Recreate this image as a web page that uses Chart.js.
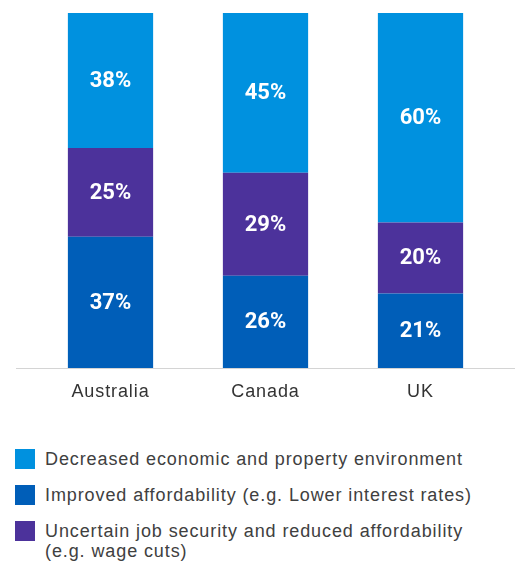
<!DOCTYPE html>
<html>
<head>
<meta charset="utf-8">
<script src="https://cdn.jsdelivr.net/npm/chart.js@4"></script>
<style>
  body { margin: 0; background: #fff; font-family: 'Liberation Sans', Arial, sans-serif; }
  #wrap { position: relative; width: 519px; height: 561px; overflow: hidden; }
  #chartBox { position: absolute; left: 0; top: 0; width: 519px; height: 425px; }
  #legend { position: absolute; left: 15px; top: 449px; width: 504px; }
  .item { display: flex; align-items: flex-start; margin-bottom: 16px; }
  .swatch { width: 20px; height: 20px; flex: none; margin-right: 10px; margin-top: 0px; }
  .text { font-size: 18px; line-height: 20px; color: #404040; letter-spacing: 0.9px; white-space: nowrap; }
</style>
</head>
<body>
<div id="wrap">
  <div id="chartBox"><canvas id="myChart"></canvas></div>
  <div id="legend"></div>
</div>
<script>
const countries = ['Australia', 'Canada', 'UK'];

// stacked from the bottom up
const improved = [37, 26, 21];
const uncertain = [25, 29, 20];
const decreased = [38, 45, 60];

const seriesNames = {
  decreased: 'Decreased economic and property environment',
  improved: 'Improved affordability (e.g. Lower interest rates)',
  uncertain: ['Uncertain job security and reduced affordability', '(e.g. wage cuts)'],
};

const colors = {
  decreased: '#0091df',
  improved: '#005eb8',
  uncertain: '#4c329b',
};

const ctx = document.getElementById('myChart');

// a bit of tracking for the axis labels
const spacing = {
  id: 'spacing',
  beforeDraw(chart) {
    chart.ctx.letterSpacing = '0.9px';
  },
};

// white percentage in the middle of each segment
const segmentLabels = {
  id: 'segmentLabels',
  afterDatasetsDraw(chart) {
    const c = chart.ctx;
    c.save();
    c.letterSpacing = '0px';
    c.fillStyle = '#ffffff';
    c.font = 'bold 22px Roboto, sans-serif';
    c.textAlign = 'center';
    c.textBaseline = 'middle';
    chart.data.datasets.forEach((ds, i) => {
      chart.getDatasetMeta(i).data.forEach((bar, j) => {
        const top = Math.max(bar.y, chart.chartArea.top);
        c.fillText(ds.data[j] + '%', bar.x, (top + bar.base) / 2 + 1);
      });
    });
    c.restore();
  },
};

// thin baseline running past the plot edges
const baseline = {
  id: 'baseline',
  afterDraw(chart) {
    const c = chart.ctx;
    const y = chart.chartArea.bottom + 0.5;
    c.save();
    c.strokeStyle = '#d4d4d4';
    c.lineWidth = 1;
    c.beginPath();
    c.moveTo(16, y);
    c.lineTo(515, y);
    c.stroke();
    c.restore();
  },
};

new Chart(ctx, {
  type: 'bar',
  data: {
    labels: countries,
    datasets: [
      { label: seriesNames.improved, data: improved, backgroundColor: colors.improved },
      { label: seriesNames.uncertain.join(' '), data: uncertain, backgroundColor: colors.uncertain },
      { label: seriesNames.decreased, data: decreased, backgroundColor: colors.decreased },
    ],
  },
  options: {
    responsive: true,
    maintainAspectRatio: false,
    animation: false,
    datasets: {
      bar: { categoryPercentage: 1, barPercentage: 0.55, borderWidth: 0 },
    },
    layout: {
      padding: { top: 13, left: 33, right: 21, bottom: 0 },
    },
    scales: {
      x: {
        stacked: true,
        grid: { display: false },
        border: { display: false },
        ticks: {
          color: '#333333',
          padding: 5,
          font: { family: "'Liberation Sans', Arial, sans-serif", size: 18 },
        },
        afterFit: (scale) => { scale.height = 57; },
      },
      y: {
        stacked: true,
        display: false,
        min: 0,
        max: 100,
      },
    },
    plugins: {
      legend: { display: false },
      tooltip: { enabled: false },
    },
  },
  plugins: [spacing, segmentLabels, baseline],
});

// html legend, top series first
const legendEl = document.getElementById('legend');
['decreased', 'improved', 'uncertain'].forEach((key) => {
  const item = document.createElement('div');
  item.className = 'item';
  const sw = document.createElement('div');
  sw.className = 'swatch';
  sw.style.background = colors[key];
  const txt = document.createElement('div');
  txt.className = 'text';
  const name = seriesNames[key];
  txt.innerHTML = Array.isArray(name) ? name.join('<br>') : name;
  item.appendChild(sw);
  item.appendChild(txt);
  legendEl.appendChild(item);
});
</script>
</body>
</html>
